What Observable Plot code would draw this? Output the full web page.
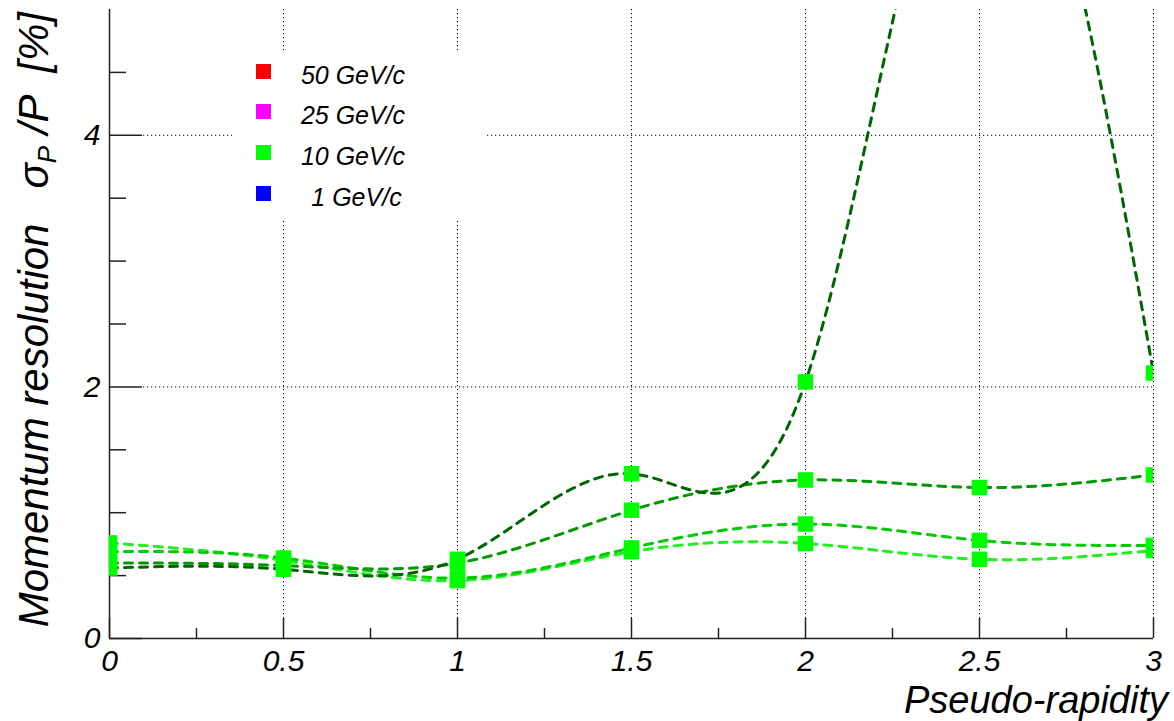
<!DOCTYPE html>
<html><head><meta charset="utf-8">
<script src="https://cdn.jsdelivr.net/npm/d3@7"></script>
<script src="https://cdn.jsdelivr.net/npm/@observablehq/plot@0.6"></script>
<style>
html,body{margin:0;padding:0;background:#fff;}
#wrap{position:relative;width:1174px;height:721px;font-family:"Liberation Sans",Arial,sans-serif;}
#legend{position:absolute;left:232px;top:51px;width:253px;height:168px;background:#fff;}
.sw{position:absolute;left:24px;width:15px;height:15px;}
.lab{position:absolute;left:41px;width:160px;height:30px;line-height:30px;text-align:center;font-style:italic;font-size:25px;color:#000;white-space:pre;}
</style></head><body><div id="wrap"></div>
<script>
// ---- data ----
const eta = [0, 0.5, 1, 1.5, 2, 2.5, 3];
const resLight  = [0.76, 0.62, 0.46, 0.69, 0.755, 0.63, 0.70];
const resMedium = [0.69, 0.64, 0.48, 0.72, 0.91, 0.78, 0.74];
const resDark   = [0.60, 0.58, 0.60, 1.02, 1.26, 1.20, 1.30];
const resDarkest= [0.56, 0.55, 0.63, 1.31, 2.04, 7.0, 2.11];
const seriesValues = [resLight, resMedium, resDark, resDarkest];
const lineColors = ["#22ee22", "#00cc00", "#009900", "#006600"];
const markerColor = "#00ff00";
const legendLabels = ["50 GeV/c", "25 GeV/c", "10 GeV/c", " 1 GeV/c"];
const legendColors = ["#ff0000", "#ff00ff", "#00ff00", "#0000ff"];
const xMajor = [0, 0.5, 1, 1.5, 2, 2.5, 3];
const xMinor = [0.25, 0.75, 1.25, 1.75, 2.25, 2.75];
const yMajor = [0, 2, 4];
const yMinor = [0.5, 1, 1.5, 2.5, 3, 3.5, 4.5];
const xGrid = [0.5, 1, 1.5, 2, 2.5, 3];
const yGrid = [2, 4];
const xTitle = "Pseudo-rapidity";
const yTitleMain = "Momentum resolution   \u03C3";
const yTitleSub = "P";
const yTitleEnd = " /P  [%]";

// ---- layout ----
const W = 1174, H = 721, mL = 109, mR = 21, mT = 9, mB = 83;
const pw = W - mL - mR, ph = H - mT - mB;
const font = "Liberation Sans, Arial, sans-serif";

const rows = seriesValues.flatMap((vals, s) => eta.map((e, i) => ({eta: e, res: vals[i], s})));

const marks = [
  Plot.ruleX(xGrid, {x: d => d, stroke: "#000", strokeWidth: 1, strokeDasharray: "1.2,2.8", insetBottom: 20}),
  Plot.ruleY(yGrid, {y: d => d, stroke: "#000", strokeWidth: 1, strokeDasharray: "1.2,2.8", insetLeft: 34}),
  Plot.ruleX(xMajor, {x: d => d, stroke: "#222", strokeWidth: 1.5, insetTop: ph - 20}),
  Plot.ruleX(xMinor, {x: d => d, stroke: "#222", strokeWidth: 1.5, insetTop: ph - 10}),
  Plot.ruleY(yMajor, {y: d => d, stroke: "#222", strokeWidth: 1.5, insetRight: pw - 33}),
  Plot.ruleY(yMinor, {y: d => d, stroke: "#222", strokeWidth: 1.5, insetRight: pw - 17}),
  Plot.ruleX([0], {x: d => d, stroke: "#222", strokeWidth: 1.5}),
  Plot.ruleY([0], {y: d => d, stroke: "#222", strokeWidth: 1.5}),
  ...seriesValues.map((vals, s) => Plot.line(rows.filter(r => r.s === s), {
    x: "eta", y: "res", stroke: lineColors[s], strokeWidth: 3, strokeDasharray: "8,7",
    curve: "natural", clip: true
  })),
  Plot.dot(rows, {x: "eta", y: "res", symbol: "square", r: 8.75, fill: markerColor, stroke: "none", clip: true}),
  Plot.text(xMajor, {x: d => d, text: d => String(d), frameAnchor: "bottom", lineAnchor: "top", dy: 11,
    fontSize: 30, fontStyle: "italic", fill: "#000"}),
  Plot.text(yMajor, {y: d => d, text: d => String(d), frameAnchor: "left", textAnchor: "end", dx: -9,
    fontSize: 30, fontStyle: "italic", fill: "#000"})
];

const chart = Plot.plot({
  width: W, height: H,
  marginLeft: mL, marginRight: mR, marginTop: mT, marginBottom: mB,
  x: {domain: [0, 3], axis: null},
  y: {domain: [0, 5], axis: null},
  style: {fontFamily: font, background: "#fff", overflow: "visible"},
  marks
});
const wrap = document.getElementById("wrap");
wrap.appendChild(chart);

const svg = d3.select(chart);
svg.append("text")
  .attr("x", W - 6).attr("y", 713)
  .attr("text-anchor", "end")
  .attr("font-family", font).attr("font-style", "italic").attr("font-size", 38)
  .text(xTitle);
const yt = svg.append("text")
  .attr("transform", "translate(48,12) rotate(-90)")
  .attr("text-anchor", "end")
  .attr("font-family", font).attr("font-style", "italic").attr("font-size", 42)
  .style("white-space", "pre");
yt.append("tspan").text(yTitleMain);
yt.append("tspan").attr("font-size", 26).attr("dy", 8).text(yTitleSub);
yt.append("tspan").attr("dy", -8).text(yTitleEnd);

// legend
const leg = document.createElement("div");
leg.id = "legend";
legendLabels.forEach((lab, i) => {
  const sw = document.createElement("div");
  sw.className = "sw";
  sw.style.top = (12.5 + i * 40.7) + "px";
  sw.style.background = legendColors[i];
  leg.appendChild(sw);
  const t = document.createElement("div");
  t.className = "lab";
  t.style.top = (8.7 + i * 40.7) + "px";
  t.textContent = lab;
  leg.appendChild(t);
});
wrap.appendChild(leg);
</script></body></html>
